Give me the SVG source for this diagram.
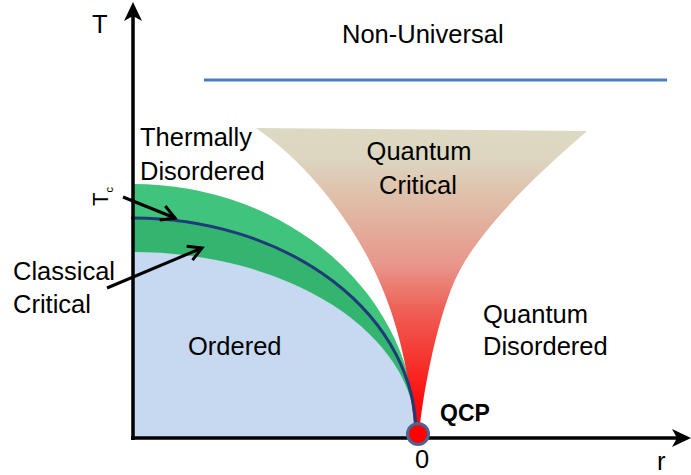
<svg xmlns="http://www.w3.org/2000/svg" width="691" height="475" viewBox="0 0 691 475">
<style>
  .lbl { font-family: "Liberation Sans", Arial, sans-serif; font-size: 25.5px; fill: #000; }
  .axis { stroke: #000; stroke-width: 3.5; fill: none; }
  .call { stroke: #000; stroke-width: 3; fill: none; marker-end: url(#open); }
</style>
<defs>
  <linearGradient id="qc" gradientUnits="userSpaceOnUse" x1="0" y1="128" x2="0" y2="434">
    <stop offset="0" stop-color="#ddd9c3"/>
    <stop offset="0.1" stop-color="#ddd6c0"/>
    <stop offset="0.25" stop-color="#e0bba6"/>
    <stop offset="0.45" stop-color="#e8958a"/>
    <stop offset="0.6" stop-color="#ef5e55"/>
    <stop offset="0.75" stop-color="#f53630"/>
    <stop offset="0.9" stop-color="#fd0d0d"/>
    <stop offset="1" stop-color="#ff0000"/>
  </linearGradient>
  <marker id="open" viewBox="0 0 12 12" refX="10" refY="6" markerWidth="6" markerHeight="6" orient="auto" markerUnits="strokeWidth">
    <path d="M1,1 L10,6 L1,11" fill="none" stroke="#000" stroke-width="2"/>
  </marker>
</defs>

<g id="region-classical-upper">
  <path d="M133,184 A283,250 0 0 1 416,434 L416,438 L133,438 Z" fill="#40c47c"/>
</g>
<g id="region-classical-lower">
  <path d="M133,218 A283,216 0 0 1 416,434 L416,438 L133,438 Z" fill="#33b56f"/>
</g>
<g id="region-ordered">
  <path d="M133,252 A283,182 0 0 1 416,434 L416,438 L133,438 Z" fill="#c6d9f0"/>
</g>
<g id="region-quantum-critical">
  <path d="M256,128 L587,131 C530,180 475,235 455,280 C435,325 422,400 419,434 L415,434 C412,400 405,345 385,295 C360,230 310,165 256,128 Z" fill="url(#qc)"/>
</g>
<g id="tc-curve">
  <path d="M131,218 L133,218 A283,216 0 0 1 416,434" fill="none" stroke="#1f3c78" stroke-width="3"/>
</g>
<g id="non-universal-line">
  <line x1="204" y1="80" x2="667" y2="80" stroke="#4a7ebb" stroke-width="3"/>
</g>

<g id="connectors">
  <line class="axis" x1="133" y1="440" x2="133" y2="15"/>
  <path d="M133,2 L124,21 L133,16 L142,21 Z" fill="#000"/>
  <line class="axis" x1="131" y1="438" x2="678" y2="438"/>
  <path d="M691,438 L672,429 L677,438 L672,447 Z" fill="#000"/>
  <line class="call" x1="123" y1="197" x2="175" y2="218"/>
  <line class="call" x1="107" y1="288" x2="202" y2="248"/>
</g>

<g id="qcp">
  <circle cx="418" cy="434" r="10.5" fill="#ff0000" stroke="#4a6591" stroke-width="3"/>
  <text x="440" y="421" font-family="Liberation Sans, Arial, sans-serif" font-size="23" font-weight="bold">QCP</text>
</g>

<g id="labels">
  <text class="lbl" x="92" y="33">T</text>
  <text class="lbl" x="657" y="470">r</text>
  <text class="lbl" x="422" y="468" text-anchor="middle">0</text>
  <text class="lbl" x="342" y="43">Non-Universal</text>
  <text class="lbl" x="140" y="146">Thermally</text>
  <text class="lbl" x="140" y="180">Disordered</text>
  <text class="lbl" x="419" y="160" text-anchor="middle">Quantum</text>
  <text class="lbl" x="418" y="194" text-anchor="middle">Critical</text>
  <text class="lbl" x="13" y="280">Classical</text>
  <text class="lbl" x="13" y="313">Critical</text>
  <text class="lbl" x="483" y="323">Quantum</text>
  <text class="lbl" x="483" y="355">Disordered</text>
  <text class="lbl" x="188" y="355">Ordered</text>
  <text transform="translate(108,206) rotate(-90)" font-family="Liberation Sans, Arial, sans-serif" font-size="22">T<tspan font-size="11" dy="5">c</tspan></text>
</g>
</svg>
